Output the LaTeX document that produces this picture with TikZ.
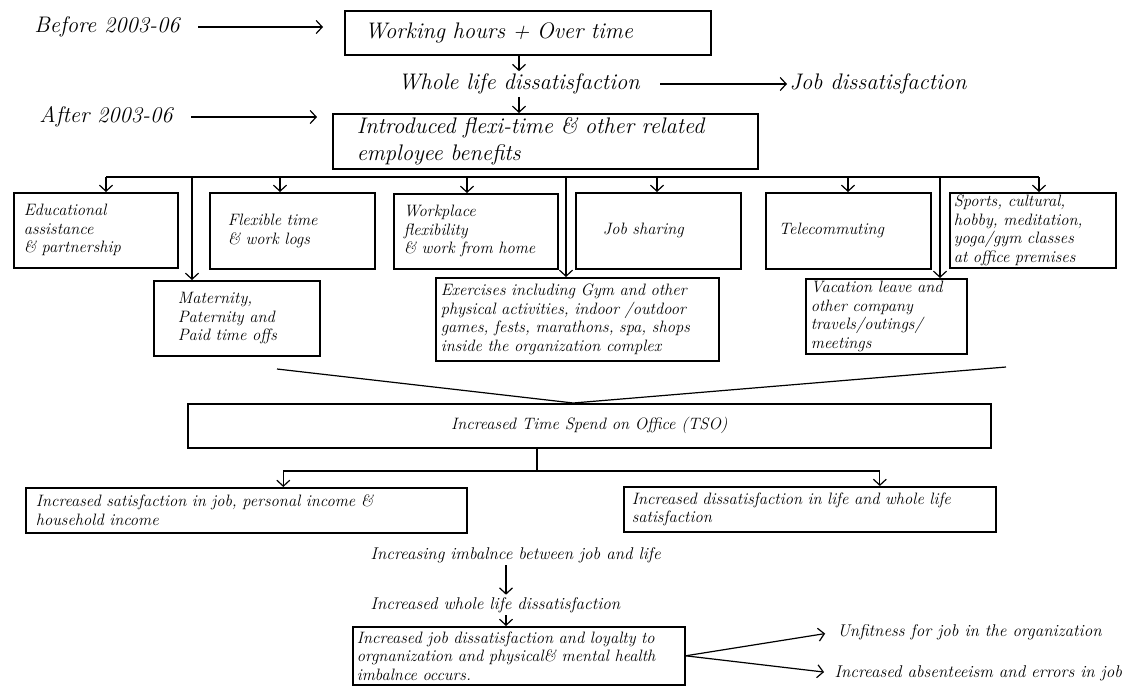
\documentclass[tikz,border=0pt]{standalone}
\usepackage{fontspec}
\usepackage{tikz}
\usetikzlibrary{arrows.meta}

\tikzset{
  big/.style={font=\itshape\fontsize{22.5}{27}\selectfont},
  lbl/.style={big, inner sep=2pt},
  note/.style={inner sep=2pt, anchor=west, font=\itshape\fontsize{17}{20}\selectfont},
  cell/.style={draw, line width=1.6pt, anchor=north west, align=left, inner ysep=1pt,
    font=\itshape\fontsize{16.5}{18.5}\selectfont}
}

\begin{document}
\begin{tikzpicture}[x=1pt, y=-1pt, line width=1.2pt, >={Straight Barb[length=6pt,width=13pt]}]
\useasboundingbox (0,0) rectangle (1133,686);

\node[lbl] (bef) at (107,27) {Before 2003-06};
\node[cell, big, minimum width=366pt, minimum height=44pt, text width=326pt, inner xsep=20pt] (hrs) at (344,10) {Working hours + Over time};
\node[lbl] (wl) at (519,84) {Whole life dissatisfaction};
\node[lbl, anchor=west] (jd) at (787,84) {Job dissatisfaction};
\node[lbl] (aft) at (106,117) {After 2003-06};
\node[cell, big, minimum width=425pt, minimum height=55pt, text width=377pt, inner xsep=24pt] (intro) at (332,113) {Introduced flexi-time \& other related\\employee benefits};

\draw[->, shorten <=16pt, shorten >=21pt] (bef.east) -- (bef.east -| hrs.west);
\draw[->] (hrs.south -| wl.north) -- (wl.north);
\draw[->, shorten <=18pt] (wl.east) -- (jd.west);
\draw[->] (wl.south) -- (wl.south |- intro.north);
\draw[->, shorten <=16pt, shorten >=15pt] (aft.east) -- (aft.east -| intro.west);

% benefits
\node[cell, minimum width=164pt, minimum height=75pt, text width=144pt, inner xsep=10pt] (edu) at (13,192) {Educational\\assistance\\\& partnership};
\node[cell, minimum width=165pt, minimum height=76pt, text width=129pt, inner xsep=18pt] (flx) at (209,192) {Flexible time\\\& work logs};
\node[cell, minimum width=164pt, minimum height=75pt, text width=144pt, inner xsep=10pt] (wpf) at (393,193) {Workplace\\flexibility\\\& work from home};
\node[cell, minimum width=165pt, minimum height=76pt, text width=111pt, inner xsep=27pt] (js) at (575,192) {Job sharing};
\node[cell, minimum width=165pt, minimum height=76pt, text width=139pt, inner xsep=13pt] (tc) at (765,192) {Telecommuting};
\node[cell, minimum width=166pt, minimum height=75pt, text width=158pt, inner xsep=4pt] (spc) at (949,192) {Sports, cultural,\\hobby, meditation,\\yoga/gym classes\\at office premises};
\node[cell, minimum width=166pt, minimum height=75pt, text width=118pt, inner xsep=24pt] (mat) at (153,280) {Maternity,\\Paternity and\\Paid time offs};
\node[cell, minimum width=283pt, minimum height=83pt, text width=273pt, inner xsep=5pt] (exr) at (435,277) {Exercises including Gym and other\\physical activities, indoor /outdoor\\games, fests, marathons, spa, shops\\inside the organization complex};
\node[cell, minimum width=161pt, minimum height=75pt, text width=151pt, inner xsep=5pt] (vac) at (805,278) {Vacation leave and\\other company\\travels/outings/\\meetings};

\coordinate (bl) at (106,177);
\coordinate (br) at (1039,177);
\draw (bl) -- (br);
\foreach \x/\n in {106/edu, 280/flx, 467/wpf, 657/js, 848/tc, 1039/spc, 192/mat, 566/exr, 940/vac}
  \draw[->] (bl -| \x,0) -- (\n.north -| \x,0);

% time spend on office
\coordinate (cl) at (277,369);
\coordinate (cr) at (1006,367);
\node[cell, align=center, minimum width=803pt, minimum height=44pt] (tso) at (187,403) {Increased Time Spend on Office (TSO)};
\draw (cl) -- ([xshift=-16pt]tso.north) -- (cr);

\node[cell, minimum width=441pt, minimum height=45pt, text width=421pt, inner xsep=10pt] (sat) at (25,487) {Increased satisfaction in job, personal income \&\\household income};
\node[cell, minimum width=372pt, minimum height=45pt, text width=356pt, inner xsep=8pt] (dis) at (623,486) {Increased dissatisfaction in life and whole life\\satisfaction};

\coordinate (sp) at (537,471);
\draw (tso.south -| sp) -- (sp);
\draw[->] (sp) -| ([xshift=37pt]sat.north);
\draw[->] (sp) -| ([xshift=70pt]dis.north);

% imbalance
\node[note] (imb) at (368,555) {Increasing imbalnce between job and life};
\node[note] (wld) at (368,605) {Increased whole life dissatisfaction};
\node[cell, minimum width=332pt, minimum height=58pt, text width=324pt, inner xsep=4pt] (ijd) at (352,626) {Increased job dissatisfaction and loyalty to\\orgnanization and physical\& mental health\\imbalnce occurs.};
\node[note] (unf) at (835,632) {Unfitness for job in the organization};
\node[note] (abs) at (832,673) {Increased absenteeism and errors in job};

\draw[->] (imb.south -| 506,0) -- (wld.north -| 506,0);
\draw[->] (wld.south -| 506,0) -- (ijd.north -| 506,0);
\draw[->, shorten >=10pt] (ijd.east) -- (unf.west);
\draw[->, shorten >=8pt] (ijd.east) -- (abs.west);
\end{tikzpicture}
\end{document}
